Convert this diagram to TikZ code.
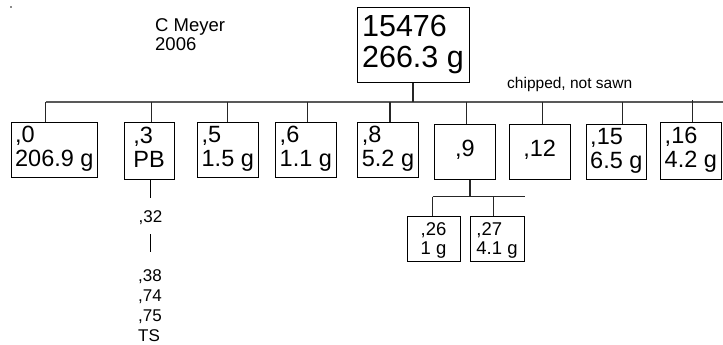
\documentclass[tikz,border=0pt]{standalone}
\usepackage{fontspec}
\setmainfont{Liberation Sans}
\begin{document}
\begin{tikzpicture}[x=1pt,y=-1pt,
  box/.style={draw=black,line width=1pt,rectangle,inner sep=0pt,align=left},
  bigtxt/.style={font=\fontsize{30.5}{27}\selectfont},
  midtxt/.style={font=\fontsize{23.5}{24}\selectfont},
  smalltxt/.style={font=\fontsize{18.5}{19}\selectfont},
  listtxt/.style={font=\fontsize{17}{20}\selectfont},
  bus/.style={draw=black!65,line width=2pt},
  stem/.style={draw=black!85,line width=1.3pt},
  thinline/.style={draw=black,line width=1pt}]
\useasboundingbox (0,0) rectangle (723,345);
\fill[black!45] (10.3,6.3) rectangle (11.7,7.7);

% top box
\node[box,bigtxt,minimum width=112pt,minimum height=75pt] (top) at (413,45.5) {\strut 15476\\\strut 266.3 g};

% titles
\node[anchor=north west,inner sep=0pt,align=left,font=\fontsize{18.5}{18.3}\selectfont] (auth) at (155,18.2) {\strut C Meyer\\\strut 2006};
\node[anchor=base west,inner sep=0pt,font=\fontsize{15.5}{18}\selectfont] (chip) at (507,88.3) {chipped, not sawn};

% bus
\coordinate (busL) at (45.7,102);
\coordinate (busR) at (723,102);
\draw[bus] (busL) -- (busR);
\draw[stem] (top.south) -- (top.south |- busL);

% children boxes
\node[box,midtxt,minimum width=86.7pt,minimum height=55pt] (b0) at (54.35,149.5) {\strut,0\\\strut206.9 g};
\node[box,midtxt,minimum width=50pt,minimum height=57pt] (b3) at (149,150.5) {\strut,3\\\strut PB};
\node[box,midtxt,minimum width=61pt,minimum height=55pt] (b5) at (227.8,149.5) {\strut,5\\\strut1.5 g};
\node[box,midtxt,minimum width=61.7pt,minimum height=55pt] (b6) at (305.85,149.5) {\strut,6\\\strut1.1 g};
\node[box,midtxt,minimum width=60.6pt,minimum height=55pt] (b8) at (388,149.5) {\strut,8\\\strut5.2 g};
\node[box,midtxt,minimum width=61.7pt,minimum height=55pt] (b9) at (464.85,151.5) {\strut,9};
\node[box,midtxt,minimum width=60.7pt,minimum height=55pt] (b12) at (539.65,151.5) {\strut,12};
\node[box,midtxt,minimum width=60.7pt,minimum height=55pt] (b15) at (616.35,151.5) {\strut,15\\\strut6.5 g};
\node[box,midtxt,minimum width=61.7pt,minimum height=57pt] (b16) at (690.85,150.5) {\strut,16\\\strut4.2 g};

% stems
\coordinate (s0) at (45.7,102);
\coordinate (s3) at (151.7,102);
\coordinate (s5) at (227.3,102);
\coordinate (s6) at (307.3,102);
\coordinate (s8) at (390,102);
\coordinate (s9) at (466.7,102);
\coordinate (s12) at (542.3,102);
\coordinate (s15) at (622.7,102);
\coordinate (s16) at (692.3,100);
\draw[stem] (s0) -- (s0 |- b0.north);
\draw[stem] (s3) -- (s3 |- b3.north);
\draw[stem] (s5) -- (s5 |- b5.north);
\draw[stem] (s6) -- (s6 |- b6.north);
\draw[stem] (s8) -- (s8 |- b8.north);
\draw[stem] (s9) -- (s9 |- b9.north);
\draw[stem] (s12) -- (s12 |- b12.north);
\draw[stem] (s15) -- (s15 |- b15.north);
\draw[stem] (s16) -- (s16 |- b16.north);

% PB branch
\coordinate (p3) at (150,198.3);
\draw[thinline] (p3 |- b3.south) -- (p3);
\node[anchor=base,inner sep=0pt,listtxt] (n32) at (150.5,222) {,32};
\coordinate (v1) at (150,234);
\coordinate (v2) at (150,252);
\draw[thinline] (v1) -- (v2);
\node[anchor=north west,inner sep=0pt,align=left,listtxt] (lst) at (138,267.7) {\strut,38\\\strut,74\\\strut,75\\\strut TS};

% sub tree of ,9
\coordinate (j9) at (470,196.7);
\coordinate (sbL) at (432.5,196.7);
\coordinate (sbR) at (525,196.7);
\coordinate (s27) at (493.3,196.7);
\node[box,smalltxt,minimum width=53pt,minimum height=45pt] (b26) at (433.5,238.5) {\rule{0pt}{19pt},26\\\strut1 g};
\node[box,smalltxt,minimum width=54pt,minimum height=45pt] (b27) at (497,238.5) {\rule{0pt}{19pt},27\\\strut4.1 g};
\draw[stem] (j9 |- b9.south) -- (j9);
\draw[stem] (sbL) -- (sbR);
\draw[stem] (sbL) -- (sbL |- b26.north);
\draw[stem] (s27) -- (s27 |- b27.north);
\end{tikzpicture}
\end{document}
